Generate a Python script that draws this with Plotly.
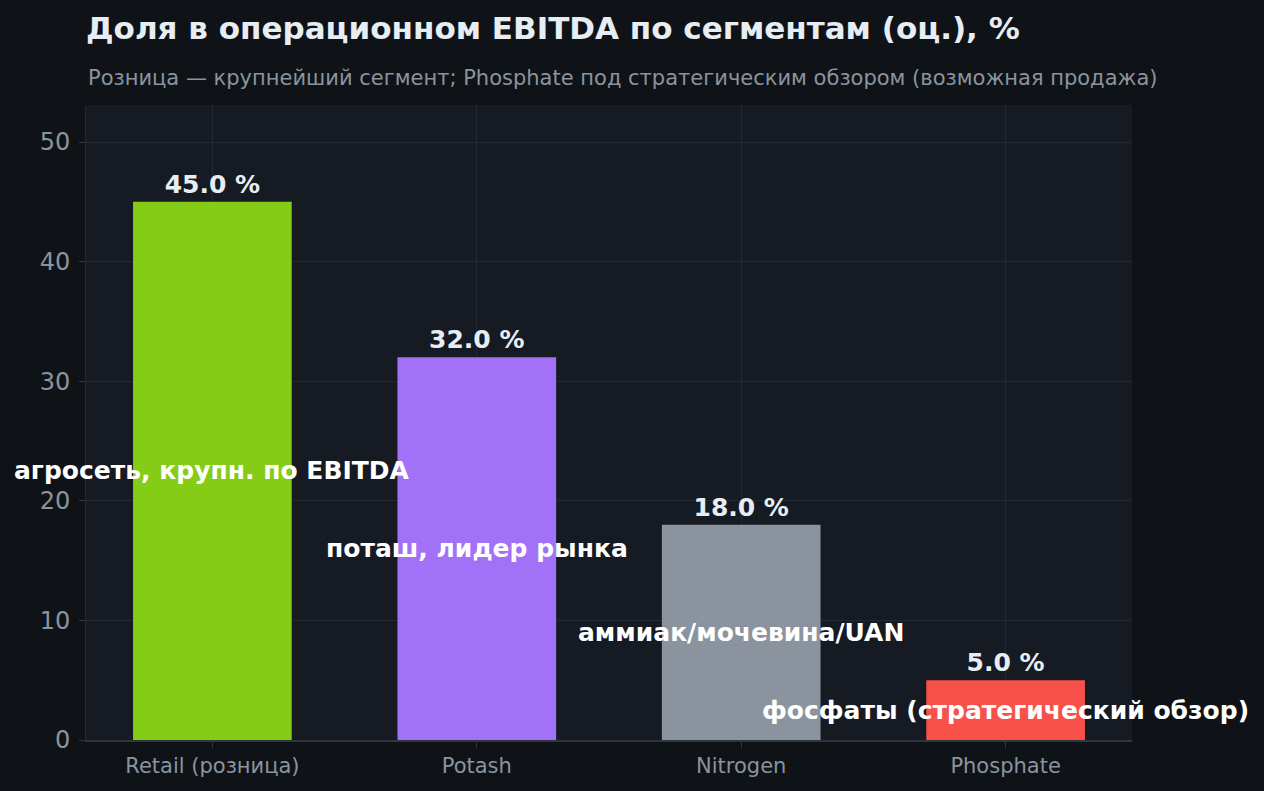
import plotly.graph_objects as go

segments = ["Retail (розница)", "Potash", "Nitrogen", "Phosphate"]
ebitda_share = [45.0, 32.0, 18.0, 5.0]
notes = ["агросеть, крупн. по EBITDA", "поташ, лидер рынка",
         "аммиак/мочевина/UAN", "фосфаты (стратегический обзор)"]
colors = ["#84cc16", "#a371f7", "#8b949e", "#f85149"]

fig = go.Figure(
    go.Bar(
        x=segments,
        y=ebitda_share,
        marker={"color": colors, "line": {"width": 0}},
        width=0.6,
        text=[f"<b>{v:.1f} %</b>" for v in ebitda_share],
        textposition="outside",
        textfont={"size": 25, "color": "#e6edf3", "family": "DejaVu Sans"},
        cliponaxis=False,
        hoverinfo="skip",
    )
)

# подписи внутри столбцов, на половине высоты
for seg, val, note in zip(segments, ebitda_share, notes):
    fig.add_annotation(
        x=seg, y=val / 2, text=f"<b>{note}</b>", showarrow=False,
        font={"size": 25, "color": "#ffffff", "family": "DejaVu Sans"},
    )

fig.add_annotation(
    xref="paper", yref="paper", x=0, y=1, xanchor="left", yanchor="bottom",
    yshift=13, showarrow=False,
    text="Розница — крупнейший сегмент; Phosphate под стратегическим обзором (возможная продажа)",
    font={"size": 21, "color": "#8b949e", "family": "DejaVu Sans"},
)

fig.update_layout(
    width=1264, height=791,
    paper_bgcolor="#0f1317",
    plot_bgcolor="#161a22",
    margin={"l": 86, "r": 132, "t": 105, "b": 51},
    font={"family": "DejaVu Sans", "color": "#8b949e"},
    title={
        "text": "<b>Доля в операционном EBITDA по сегментам (оц.), %</b>",
        "x": 86 / 1264, "xanchor": "left", "y": 0.965, "yanchor": "middle",
        "font": {"size": 31, "color": "#e6edf3", "family": "DejaVu Sans"},
    },
    showlegend=False,
)
fig.update_xaxes(
    range=[-0.478, 3.478],
    showgrid=True, gridcolor="#232831", showline=True, linecolor="#30363d",
    linewidth=2, ticks="outside", tickcolor="#30363d", ticklen=6,
    tickfont={"size": 21, "color": "#8b949e"},
)
fig.update_yaxes(
    range=[0, 53.1], dtick=10, showgrid=True, gridcolor="#232831",
    zeroline=False, showline=True, linecolor="#232831",
    ticks="outside", tickcolor="#30363d", ticklen=6, ticklabelstandoff=4,
    tickfont={"size": 24, "color": "#8b949e"},
)

fig.write_html("out.html", config={"displayModeBar": False},
               post_script="document.body.style.margin='0';")
